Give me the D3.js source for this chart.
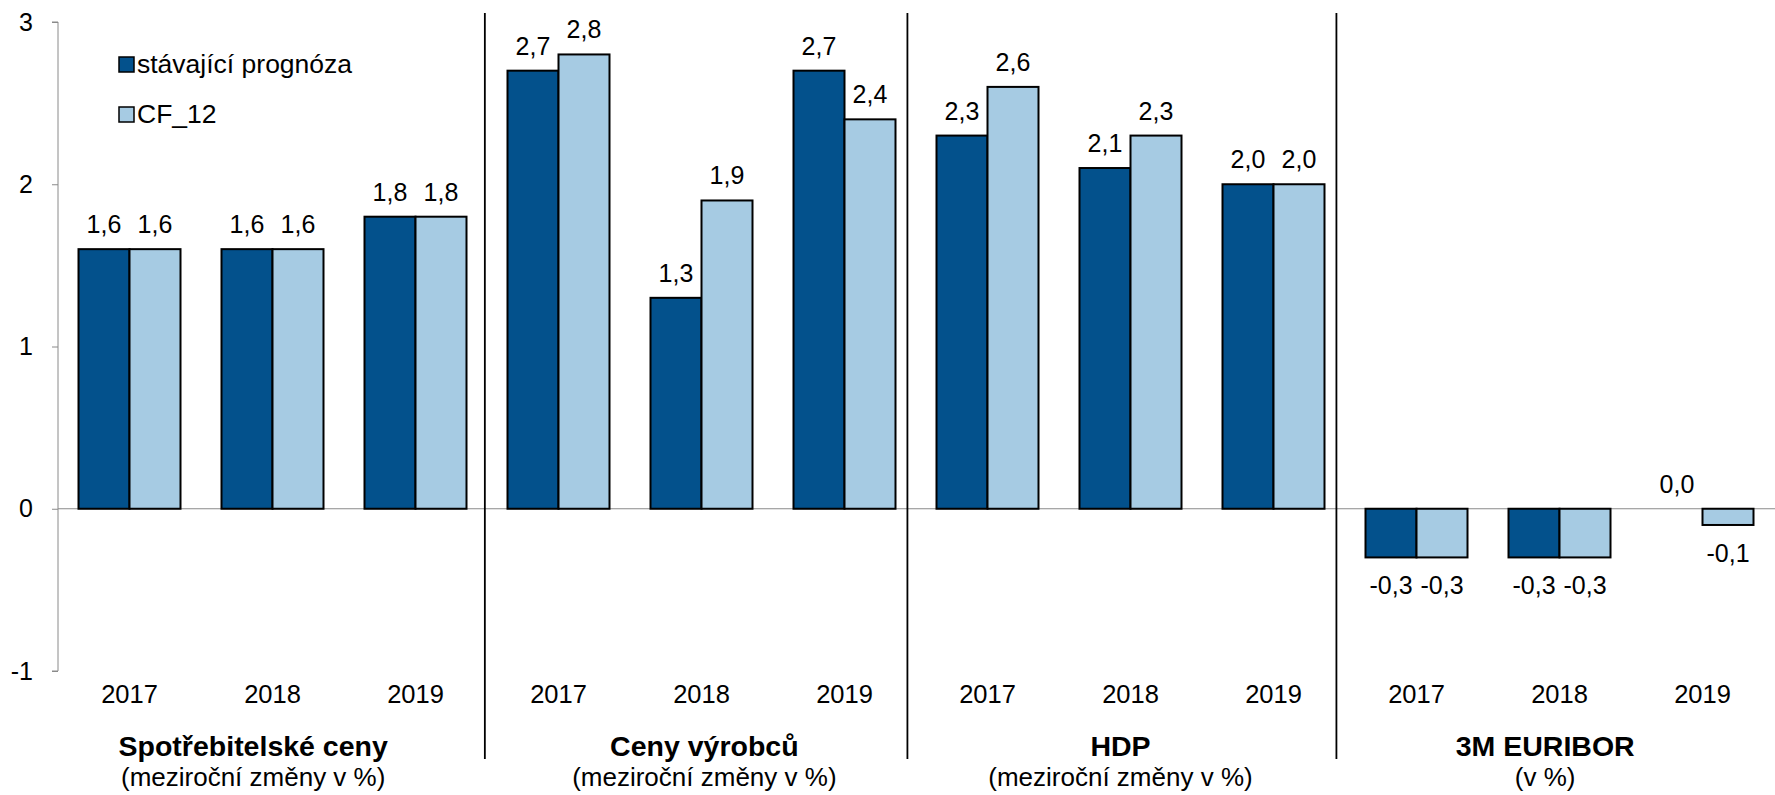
<!DOCTYPE html>
<html>
<head>
<meta charset="utf-8">
<script src="https://cdn.jsdelivr.net/npm/d3@7"></script>
<style>
  html, body { margin: 0; padding: 0; background: #fff; }
  svg { display: block; font-family: "Liberation Sans", Arial, sans-serif; }
</style>
</head>
<body>
<svg id="chart" width="1775" height="795"></svg>
<script>
// ---- data ----
const groups = ["Spotřebitelské ceny", "Ceny výrobců", "HDP", "3M EURIBOR"];
const groupSubtitles = ["(meziroční změny v %)", "(meziroční změny v %)", "(meziroční změny v %)", "(v %)"];
const years = ["2017", "2018", "2019"];
const seriesNames = ["stávající prognóza", "CF_12"];
const currentForecast = [1.6, 1.6, 1.8, 2.7, 1.3, 2.7, 2.3, 2.1, 2.0, -0.3, -0.3, 0.0];
const cf12 = [1.6, 1.6, 1.8, 2.8, 1.9, 2.4, 2.6, 2.3, 2.0, -0.3, -0.3, -0.1];
const yTicks = [-1, 0, 1, 2, 3];

(function () {
// ---- layout ----
const colors = ["#03518c", "#a6cbe3"];
const plotL = 58, plotR = 1774, plotT = 22, plotB = 671;
const sepPos = [2.985, 5.94, 8.94];          // separator positions, in category units
const titlePos = [1.365, 4.52, 7.43, 10.4];  // title centres, in category units

const cats = [];
groups.forEach((g, gi) => years.forEach((yr, yi) => cats.push({ key: gi + "-" + yr, year: yr, gi, idx: gi * 3 + yi })));
const values = [currentForecast, cf12];

const svg = d3.select("#chart");
const pad = 41 / 143;
const x0 = d3.scaleBand().domain(cats.map(d => d.key)).range([plotL, plotR]).paddingInner(pad).paddingOuter(pad / 2);
const x1 = d3.scaleBand().domain(seriesNames).range([0, x0.bandwidth()]);
const y = d3.scaleLinear().domain([-1, 3]).range([plotB, plotT]);
const xu = d3.scaleLinear().domain([0, cats.length]).range([plotL, plotR]);

const fmt = v => v.toFixed(1).replace(".", ",");

// zero line
svg.append("line")
  .attr("x1", plotL).attr("x2", 1775)
  .attr("y1", y(0)).attr("y2", y(0))
  .attr("stroke", "#8a8a8a").attr("stroke-width", 1);

// y axis
const yAxis = d3.axisLeft(y).tickValues(yTicks).tickSize(6).tickPadding(19).tickFormat(d => String(d));
const ya = svg.append("g").attr("transform", `translate(${plotL},0)`).call(yAxis);
ya.select(".domain").attr("stroke", "#8a8a8a").attr("d", `M-6,${y(3)}H0V${y(-1)}H-6`);
ya.selectAll(".tick line").attr("stroke", "#8a8a8a");
ya.selectAll(".tick text").attr("font-size", 25).attr("fill", "#000")
  .attr("font-family", "'Liberation Sans', Arial, sans-serif");

// separators
svg.selectAll(".sep").data(sepPos).enter().append("line")
  .attr("x1", d => xu(d)).attr("x2", d => xu(d))
  .attr("y1", 13).attr("y2", 759)
  .attr("stroke", "#000").attr("stroke-width", 1.8);

// bars
seriesNames.forEach((s, si) => {
  const data = cats.map(c => ({ c, v: values[si][c.idx] }));
  svg.append("g").selectAll("rect").data(data.filter(d => d.v !== 0)).enter().append("rect")
    .attr("x", d => x0(d.c.key) + x1(s))
    .attr("width", x1.bandwidth())
    .attr("y", d => y(Math.max(0, d.v)))
    .attr("height", d => Math.abs(y(d.v) - y(0)))
    .attr("fill", colors[si])
    .attr("stroke", "#000").attr("stroke-width", 2);
  svg.append("g").selectAll("text").data(data).enter().append("text")
    .attr("x", d => x0(d.c.key) + x1(s) + x1.bandwidth() / 2)
    .attr("y", d => d.v >= 0 ? y(d.v) - 16 : y(d.v) + 37)
    .attr("text-anchor", "middle")
    .attr("font-size", 25)
    .attr("fill", "#000")
    .text(d => fmt(d.v));
});

// year labels
svg.append("g").selectAll("text").data(cats).enter().append("text")
  .attr("x", d => x0(d.key) + x0.bandwidth() / 2)
  .attr("y", 703)
  .attr("text-anchor", "middle")
  .attr("font-size", 25.5)
  .text(d => d.year);

// group titles
svg.append("g").selectAll("text").data(groups).enter().append("text")
  .attr("x", (d, i) => xu(titlePos[i]))
  .attr("y", 756)
  .attr("text-anchor", "middle")
  .attr("font-size", 28.5)
  .attr("font-weight", "bold")
  .text(d => d);
svg.append("g").selectAll("text").data(groupSubtitles).enter().append("text")
  .attr("x", (d, i) => xu(titlePos[i]))
  .attr("y", 786)
  .attr("text-anchor", "middle")
  .attr("font-size", 26)
  .text(d => d);

// legend
const lg = svg.append("g");
seriesNames.forEach((s, si) => {
  lg.append("rect")
    .attr("x", 119).attr("y", 57 + si * 50)
    .attr("width", 15).attr("height", 15)
    .attr("fill", colors[si]).attr("stroke", "#000").attr("stroke-width", 1.5);
  lg.append("text")
    .attr("x", 137).attr("y", 73 + si * 50)
    .attr("font-size", 26.5)
    .text(s);
});
})();
</script>
</body>
</html>
